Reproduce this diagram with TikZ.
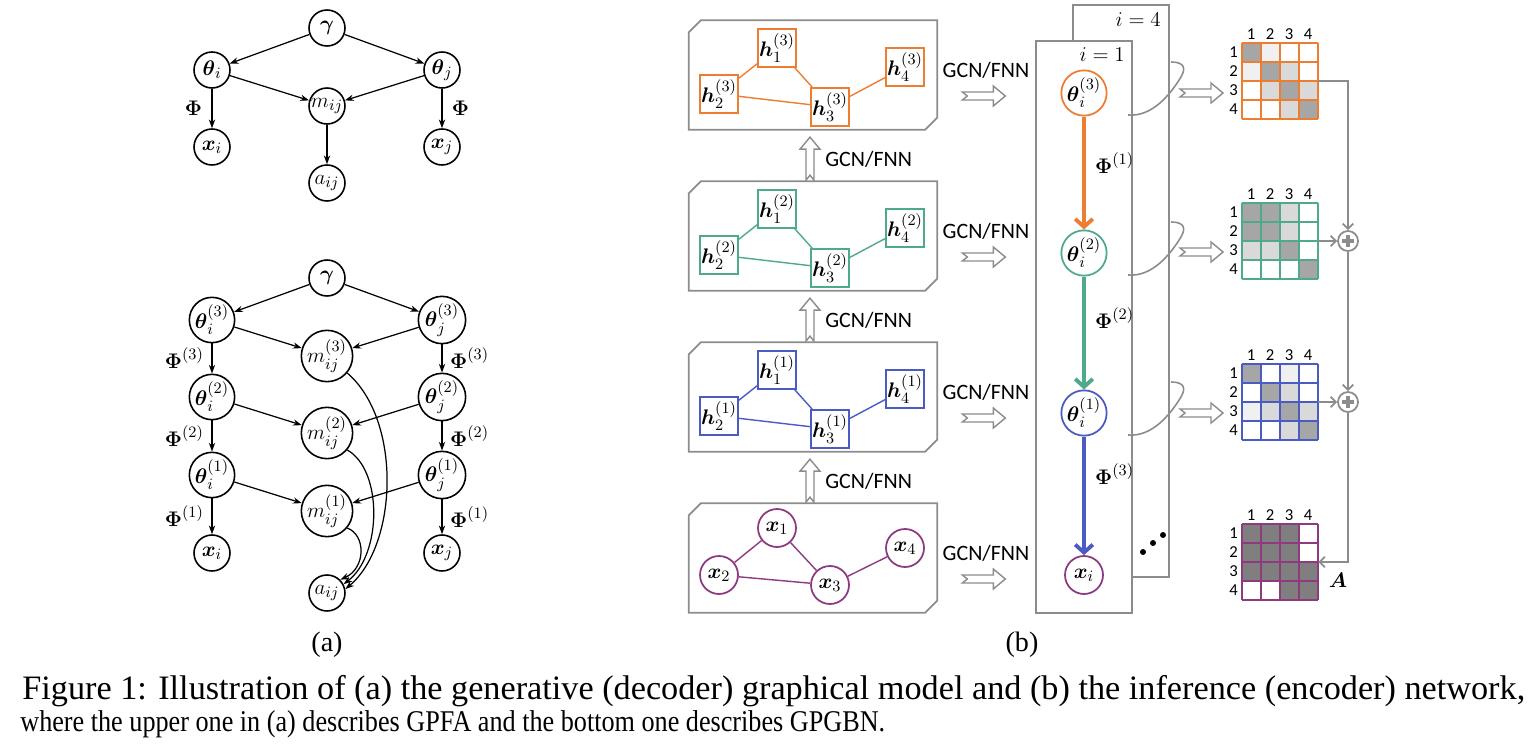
\documentclass[tikz,border=0pt]{standalone}
\usepackage{amsmath,amssymb}
\usepackage{fontspec}
\setmainfont{Liberation Serif}
\setsansfont{Carlito}
\usepackage{tikz}
\usetikzlibrary{arrows.meta,positioning,calc}
\definecolor{corange}{HTML}{ED7D31}
\definecolor{cgreen}{HTML}{4FA98B}
\definecolor{cblue}{HTML}{4A5BC4}
\definecolor{cpurple}{HTML}{8E3A80}
\definecolor{frame}{HTML}{8C8C8C}
\definecolor{g1}{HTML}{F0F0F0}
\definecolor{g2}{HTML}{D9D9D9}
\definecolor{g3}{HTML}{A6A6A6}
\definecolor{g4}{HTML}{7F7F7F}

\tikzset{hollow/.pic={\draw[frame, line width=0.8pt, fill=white, line join=miter]
  (0,-4) -- (31,-4) -- (31,-10) -- (43,0) -- (31,10) -- (31,4) -- (0,4) -- (5,0) -- cycle;}}

\newcommand{\adjmat}[3]{%
  \begin{scope}[shift={(#1.north west)}]
    \foreach \tone [count=\k from 0] in {#3}{
      \pgfmathtruncatemacro\rw{div(\k,4)}
      \pgfmathtruncatemacro\cl{mod(\k,4)}
      \fill[\tone] (\cl*19,\rw*19) rectangle ++(19,19);
    }
    \foreach \n in {0,...,4}{
      \draw[#2, line width=1.2pt] (\n*19,0) -- (\n*19,76);
      \draw[#2, line width=1.2pt] (0,\n*19) -- (76,\n*19);
    }
    \foreach \n in {1,...,4}{
      \node[idx] at (\n*19-9.5,-9) {\n};
      \node[idx] at (-8,\n*19-9.5) {\n};
    }
  \end{scope}}

\begin{document}
\begin{tikzpicture}[x=0.02cm, y=-0.02cm, >=Stealth,
  every node/.style={font=\fontsize{12.5}{14}\selectfont},
  pgm/.style={circle, draw, line width=0.9pt, minimum size=0.72cm, inner sep=0pt},
  edge/.style={-{Stealth[length=5pt,width=3.6pt]}, line width=0.7pt},
  hbox/.style={draw, line width=1pt, minimum size=0.76cm, inner sep=0pt, fill=white},
  xnode/.style={circle, draw, line width=1pt, minimum size=0.76cm, inner sep=0pt, fill=white},
  layer/.style={minimum width=4.96cm, minimum height=2.18cm, inner sep=0pt},
  gcn/.style={font=\sffamily\fontsize{12.5}{14}\selectfont, inner sep=0pt},
  flow/.style={line width=2.2pt, -{Straight Barb[length=4.5pt,width=10pt]}},
  conn/.style={frame, line width=1pt, -{Straight Barb[length=3pt,width=6pt]}},
  idx/.style={font=\sffamily\fontsize{9.5}{10}\selectfont, inner sep=0pt},
  capt/.style={anchor=base west, inner sep=0pt}]
\useasboundingbox (0,0) rectangle (1536,750);

% (a) upper: GPFA
\node[pgm] (g) at (327,28) {$\boldsymbol{\gamma}$};
\node[pgm] (ti) at (212,70) {$\boldsymbol{\theta}_i$};
\node[pgm] (tj) at (442,70) {$\boldsymbol{\theta}_j$};
\node[pgm] (m) at (327,106) {$m_{ij}$};
\node[pgm] (xi) at (212,147) {$\boldsymbol{x}_i$};
\node[pgm] (xj) at (442,147) {$\boldsymbol{x}_j$};
\node[pgm] (a) at (327,183) {$a_{ij}$};
\draw[edge] (g) -- (ti); \draw[edge] (g) -- (tj);
\draw[edge] (ti) -- (m); \draw[edge] (tj) -- (m); \draw[edge] (m) -- (a);
\draw[edge] (ti) -- node[left=2pt] {$\boldsymbol{\Phi}$} (xi);
\draw[edge] (tj) -- node[right=2pt] {$\boldsymbol{\Phi}$} (xj);

% (a) lower: GPGBN
\node[pgm] (G) at (327,278) {$\boldsymbol{\gamma}$};
\foreach \l/\yy in {3/320, 2/397, 1/475} {
  \node[pgm] (ti\l) at (212,\yy) {$\boldsymbol{\theta}_i^{(\l)}$};
  \node[pgm] (tj\l) at (442,\yy) {$\boldsymbol{\theta}_j^{(\l)}$};
  \node[pgm] (m\l) at (327,\yy+36) {$m_{ij}^{(\l)}$};
  \draw[edge] (ti\l) -- (m\l); \draw[edge] (tj\l) -- (m\l);
}
\node[pgm] (Xi) at (212,553) {$\boldsymbol{x}_i$};
\node[pgm] (Xj) at (442,553) {$\boldsymbol{x}_j$};
\node[pgm] (A) at (327,593) {$a_{ij}$};
\draw[edge] (G) -- (ti3); \draw[edge] (G) -- (tj3);
\draw[edge] (ti3) -- node[left=1pt] {$\boldsymbol{\Phi}^{(3)}$} (ti2);
\draw[edge] (ti2) -- node[left=1pt] {$\boldsymbol{\Phi}^{(2)}$} (ti1);
\draw[edge] (ti1) -- node[left=1pt] {$\boldsymbol{\Phi}^{(1)}$} (Xi);
\draw[edge] (tj3) -- node[right=1pt] {$\boldsymbol{\Phi}^{(3)}$} (tj2);
\draw[edge] (tj2) -- node[right=1pt] {$\boldsymbol{\Phi}^{(2)}$} (tj1);
\draw[edge] (tj1) -- node[right=1pt] {$\boldsymbol{\Phi}^{(1)}$} (Xj);
\draw[edge] (m3.-40) .. controls (402,420) and (398,545) .. (A.12);
\draw[edge] (m2.-40) .. controls (383,470) and (382,555) .. (A.28);
\draw[edge] (m1.-40) .. controls (366,535) and (366,568) .. (A.45);
\node[font=\fontsize{16}{18}\selectfont] (capa) at (327,645) {(a)};

% (b) layers
\foreach \l/\yy in {3/75, 2/236, 1/397, 0/558} {
  \node[layer] (b\l) at (813,\yy) {};
  \draw[frame, line width=1pt] ([yshift=-7pt]b\l.north west) -- ([xshift=7pt]b\l.north west)
    -- (b\l.north east) -- ([yshift=7pt]b\l.south east) -- ([xshift=-7pt]b\l.south east)
    -- (b\l.south west) -- cycle;
}
\foreach \l/\c in {3/corange, 2/cgreen, 1/cblue} {
  \node[hbox, draw=\c] (h\l1) at ([shift={(-36,-27)}]b\l.center) {$\boldsymbol{h}_1^{(\l)}$};
  \node[hbox, draw=\c] (h\l2) at ([shift={(-94,19)}]b\l.center) {$\boldsymbol{h}_2^{(\l)}$};
  \node[hbox, draw=\c] (h\l3) at ([shift={(17,32)}]b\l.center) {$\boldsymbol{h}_3^{(\l)}$};
  \node[hbox, draw=\c] (h\l4) at ([shift={(92,-8)}]b\l.center) {$\boldsymbol{h}_4^{(\l)}$};
  \draw[\c, line width=0.8pt] (h\l1) -- (h\l2) (h\l1) -- (h\l3) (h\l2) -- (h\l3) (h\l3) -- (h\l4);
}
\node[xnode, draw=cpurple] (x1) at ([shift={(-36,-30)}]b0.center) {$\boldsymbol{x}_1$};
\node[xnode, draw=cpurple] (x2) at ([shift={(-94,17)}]b0.center) {$\boldsymbol{x}_2$};
\node[xnode, draw=cpurple] (x3) at ([shift={(17,27)}]b0.center) {$\boldsymbol{x}_3$};
\node[xnode, draw=cpurple] (x4) at ([shift={(92,-10)}]b0.center) {$\boldsymbol{x}_4$};
\draw[cpurple, line width=0.8pt] (x1) -- (x2) (x1) -- (x3) (x2) -- (x3) (x3) -- (x4);

\foreach \l in {3,2,1,0} {
  \node[gcn, anchor=west] (lb\l) at ([shift={(5,-5)}]b\l.east) {GCN/FNN};
  \pic at ([shift={(25,21)}]b\l.east) {hollow};
}
\foreach \l in {2,1,0} {
  \pic[rotate=90] at ([shift={(-3,-1)}]b\l.north) {hollow};
  \node[gcn, anchor=west] (lu\l) at ([shift={(12,-22)}]b\l.north) {GCN/FNN};
}

% (b) inference panels
\draw[frame, line width=1pt, fill=white] (1073,5) rectangle (1169,577);
\draw[frame, line width=1pt, fill=white] (1036,41) rectangle (1132,613);
\node[anchor=east, font=\fontsize{13}{14}\selectfont] (i4) at (1167,20) {$i=4$};
\node[anchor=east, font=\fontsize{13}{14}\selectfont] (i1) at (1131,55) {$i=1$};
\node[xnode, draw=corange] (t3) at (1084,93) {$\boldsymbol{\theta}_i^{(3)}$};
\node[xnode, draw=cgreen] (t2) at (1084,253) {$\boldsymbol{\theta}_i^{(2)}$};
\node[xnode, draw=cblue] (t1) at (1084,413) {$\boldsymbol{\theta}_i^{(1)}$};
\node[xnode, draw=cpurple] (t0) at (1084,575) {$\boldsymbol{x}_i$};
\draw[flow, corange] (t3) -- (t2);
\draw[flow, cgreen] (t2) -- (t1);
\draw[flow, cblue] (t1) -- (t0);
\node[anchor=west] (p1) at (1089,163) {$\boldsymbol{\Phi}^{(1)}$};
\node[anchor=west] (p2) at (1089,318) {$\boldsymbol{\Phi}^{(2)}$};
\node[anchor=west] (p3) at (1089,474) {$\boldsymbol{\Phi}^{(3)}$};
\foreach \d/\yy in {0/552, 1/543, 2/535} \fill (1143+\d*10,\yy) circle (1.7pt);
\foreach \k/\yy in {3/115, 2/275, 1/435} {
  \coordinate (ks\k) at (1128,\yy);
  \coordinate (ke\k) at (1171,\yy-53);
  \draw[frame, line width=0.9pt] (ks\k) .. controls (1152,\yy+2) and (1170,\yy-20) .. (1181,\yy-38)
    .. controls (1188,\yy-50) and (1180,\yy-53) .. (ke\k);
}
\pic at (1180,93) {hollow};
\pic at (1180,252) {hollow};
\pic at (1180,413) {hollow};

% adjacency matrices
\foreach \n/\yy in {1/81, 2/241, 3/402, 4/562}
  \node[minimum size=1.52cm, inner sep=0pt] (mat\n) at (1280,\yy) {};
\adjmat{mat1}{corange}{g3,g1,white,white, g1,g3,g2,white, white,g2,g3,g2, white,white,g2,g3}
\adjmat{mat2}{cgreen}{g3,g3,g2,white, g3,g3,g2,white, g2,g2,g3,white, white,white,white,g3}
\adjmat{mat3}{cblue}{g3,white,g1,white, white,g3,g2,white, g1,g2,g3,g2, white,white,g2,g3}
\adjmat{mat4}{cpurple}{g4,g4,g4,white, g4,g4,g4,white, g4,g4,g4,g4, white,white,g4,g4}
\node[circle, draw=frame, line width=1pt, minimum size=0.4cm, inner sep=0pt] (s1) at (1348,241) {};
\node[circle, draw=frame, line width=1pt, minimum size=0.4cm, inner sep=0pt] (s2) at (1348,402) {};
\foreach \s in {s1,s2}
  \draw[frame, line width=2.6pt] (\s.center) ++(-6,0) -- ++(12,0) (\s.center) ++(0,-6) -- ++(0,12);
\draw[conn] (mat1.east) -| (s1.north);
\draw[conn] (mat2.east) -- (s1.west);
\draw[conn] (s1.south) -- (s2.north);
\draw[conn] (mat3.east) -- (s2.west);
\draw[conn] (s2.south) |- (mat4.east);
\node[font=\fontsize{13}{14}\selectfont] (lblA) at (1338,580) {$\boldsymbol{A}$};
\node[font=\fontsize{16}{18}\selectfont] (capb) at (1022,645) {(b)};

% caption
\node[capt] (cap1) at (22,699) {\resizebox{30.06cm}{!}{Figure 1: Illustration of (a) the
  generative (decoder) graphical model and (b) the inference (encoder) network,}};
\node[capt] (cap2) at (20,731) {\scalebox{1}[1.15]{\resizebox{17.3cm}{!}{where the upper one in (a)
  describes GPFA and the bottom one describes GPGBN.}}};
\end{tikzpicture}
\end{document}
